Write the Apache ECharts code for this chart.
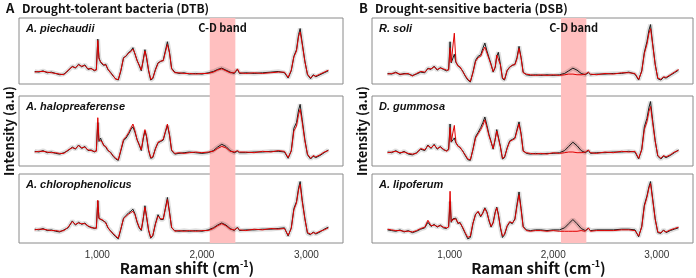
<!DOCTYPE html>
<html>
<head>
<meta charset="utf-8">
<script src="https://cdn.jsdelivr.net/npm/echarts@6/dist/echarts.min.js"></script>
<style>
  html, body { margin: 0; padding: 0; background: #fff; }
  #chart { width: 696px; height: 278px; }
</style>
</head>
<body>
<div id="chart"></div>
<script>
// raman shift values (cm-1) the spectra were read at
const shift = [
  400, 440, 480, 520, 560, 600, 640, 680, 720, 760, 790, 820, 850, 880, 910, 940, 970, 990,
  1004, 1015, 1030, 1045, 1060, 1080, 1100, 1125, 1150, 1175, 1200, 1225, 1250, 1275, 1300,
  1320, 1340, 1360, 1380, 1400, 1420, 1440, 1455, 1470, 1490, 1510, 1530, 1555, 1580, 1605,
  1630, 1650, 1670, 1690, 1710, 1740, 1780, 1830, 1880, 1940, 2000, 2060, 2110, 2150, 2190,
  2230, 2270, 2310, 2340, 2360, 2420, 2500, 2580, 2660, 2730, 2790, 2825, 2855, 2880, 2905,
  2925, 2940, 2960, 2985, 3010, 3040, 3065, 3090, 3130, 3170, 3210
];

// intensities, % of panel height (black = control, red = D2O)
const piechaudiiBlack = [
  19, 18, 20, 17, 18, 16, 14, 15, 20, 27, 24, 30, 26, 29, 22, 24, 20, 22,
  68, 40, 33, 36, 28, 30, 22, 18, 12, 8, 6, 20, 40, 42, 48,
  50, 55, 45, 36, 28, 20, 38, 52, 40, 20, 6, 8, 22, 32, 34,
  36, 50, 64, 48, 24, 18, 16, 17, 15, 16, 15, 17, 19, 22, 24,
  21, 18, 16, 22, 16, 17, 16, 17, 18, 19, 17, 9, 20, 42, 52,
  75, 84, 62, 35, 14, 8, 14, 11, 14, 17, 20
];
const piechaudiiRed = [
  18, 19, 19, 18, 17, 16, 15, 14, 21, 26, 25, 29, 27, 28, 23, 23, 21, 21,
  66, 38, 34, 35, 29, 29, 23, 17, 13, 7, 7, 21, 39, 43, 47,
  49, 53, 46, 35, 29, 21, 37, 50, 41, 21, 7, 9, 21, 31, 35,
  35, 48, 60, 47, 23, 17, 17, 16, 16, 15, 16, 16, 18, 21, 23,
  20, 17, 17, 23, 17, 16, 17, 16, 17, 18, 18, 10, 21, 41, 50,
  72, 79, 60, 34, 15, 9, 13, 12, 15, 18, 21
];

const halopreaferenseBlack = [
  21, 20, 22, 19, 20, 18, 17, 19, 22, 27, 24, 30, 25, 28, 22, 23, 20, 22,
  62, 35, 40, 34, 30, 27, 22, 20, 14, 10, 8, 22, 36, 40, 46,
  52, 56, 48, 38, 30, 22, 40, 50, 42, 22, 11, 12, 25, 33, 35,
  37, 48, 58, 44, 22, 17, 18, 19, 20, 19, 18, 19, 22, 27, 31,
  28, 22, 19, 21, 19, 19, 20, 20, 21, 21, 20, 11, 22, 54, 62,
  80, 88, 66, 38, 16, 10, 14, 12, 15, 19, 23
];
const halopreaferenseRed = [
  20, 21, 21, 20, 19, 19, 18, 18, 23, 26, 25, 29, 26, 27, 23, 22, 21, 21,
  69, 37, 39, 35, 29, 28, 23, 19, 15, 11, 9, 23, 38, 42, 48,
  54, 60, 50, 37, 31, 23, 41, 52, 43, 23, 12, 13, 24, 34, 36,
  38, 49, 60, 45, 23, 18, 19, 18, 19, 20, 19, 20, 21, 25, 28,
  26, 21, 20, 22, 20, 20, 19, 21, 20, 22, 21, 12, 21, 50, 57,
  74, 81, 62, 36, 17, 11, 15, 13, 16, 20, 22
];

const chlorophenolicusBlack = [
  20, 19, 21, 18, 19, 17, 16, 19, 22, 32, 26, 30, 27, 29, 24, 23, 21, 22,
  61, 36, 38, 33, 34, 30, 22, 18, 13, 9, 6, 20, 36, 40, 44,
  46, 49, 42, 30, 22, 18, 36, 54, 38, 18, 7, 10, 28, 41, 34,
  34, 50, 66, 45, 22, 18, 17, 18, 17, 18, 17, 19, 22, 26, 29,
  26, 21, 18, 23, 18, 19, 19, 20, 20, 21, 22, 10, 22, 50, 60,
  80, 89, 62, 36, 14, 12, 16, 13, 16, 20, 23
];
const chlorophenolicusRed = [
  19, 20, 20, 19, 18, 18, 17, 18, 23, 31, 27, 29, 28, 28, 25, 22, 22, 21,
  62, 35, 37, 34, 33, 29, 23, 17, 14, 10, 7, 21, 35, 39, 42,
  44, 46, 41, 31, 23, 19, 37, 52, 39, 19, 8, 11, 27, 39, 35,
  35, 49, 63, 44, 23, 17, 18, 17, 18, 17, 18, 18, 21, 25, 28,
  25, 20, 19, 22, 19, 18, 20, 19, 21, 20, 21, 11, 21, 48, 58,
  77, 85, 60, 35, 15, 13, 15, 14, 17, 19, 22
];

const soliBlack = [
  16, 15, 18, 14, 16, 15, 13, 15, 18, 17, 24, 22, 27, 21, 25, 22, 20, 22,
  64, 32, 30, 45, 33, 28, 25, 20, 12, 6, 3, 18, 36, 42, 44,
  54, 62, 50, 40, 30, 18, 25, 42, 48, 30, 8, 6, 20, 26, 28,
  30, 40, 57, 40, 18, 14, 13, 14, 13, 14, 13, 14, 16, 20, 24,
  21, 16, 14, 17, 14, 15, 15, 16, 16, 18, 15, 6, 20, 48, 64,
  82, 90, 62, 30, 8, 6, 10, 9, 13, 17, 21
];
const soliRed = [
  15, 16, 17, 15, 15, 16, 12, 16, 19, 18, 23, 23, 26, 22, 24, 23, 21, 21,
  55, 33, 31, 77, 34, 27, 26, 19, 13, 7, 4, 17, 34, 40, 42,
  50, 56, 47, 38, 29, 19, 26, 44, 46, 29, 9, 7, 21, 25, 29,
  29, 38, 54, 39, 17, 15, 14, 13, 14, 13, 14, 13, 14, 15, 15,
  14, 14, 15, 18, 15, 14, 16, 15, 17, 17, 16, 7, 19, 46, 60,
  77, 84, 60, 29, 9, 7, 11, 10, 14, 18, 22
];

const gummosaBlack = [
  20, 19, 22, 18, 21, 17, 16, 19, 24, 22, 30, 25, 31, 24, 28, 23, 22, 24,
  60, 34, 36, 40, 33, 29, 26, 22, 15, 9, 8, 24, 42, 48, 55,
  62, 70, 58, 45, 35, 24, 38, 52, 50, 28, 10, 12, 26, 36, 38,
  40, 52, 63, 46, 22, 18, 17, 18, 17, 18, 18, 19, 22, 28, 34,
  29, 22, 19, 22, 18, 19, 19, 20, 20, 21, 20, 10, 24, 56, 68,
  84, 92, 66, 36, 14, 10, 14, 12, 15, 19, 23
];
const gummosaRed = [
  19, 20, 21, 19, 20, 18, 17, 18, 25, 23, 29, 26, 30, 25, 27, 24, 21, 23,
  55, 35, 37, 58, 34, 28, 27, 21, 16, 10, 9, 23, 40, 46, 52,
  58, 66, 55, 43, 34, 25, 39, 50, 48, 27, 11, 13, 25, 35, 37,
  39, 50, 60, 45, 21, 19, 18, 17, 18, 17, 19, 18, 19, 20, 20,
  19, 19, 20, 23, 19, 18, 20, 19, 21, 20, 21, 11, 23, 52, 63,
  78, 85, 62, 35, 15, 11, 15, 13, 16, 20, 22
];

const lipoferumBlack = [
  19, 18, 17, 19, 16, 18, 15, 17, 20, 22, 30, 24, 27, 23, 26, 22, 21, 24,
  60, 30, 35, 34, 36, 28, 30, 22, 14, 6, 8, 28, 42, 45, 38,
  44, 51, 45, 32, 23, 30, 45, 52, 42, 22, 8, 12, 24, 30, 28,
  35, 56, 74, 50, 24, 19, 18, 19, 19, 18, 19, 19, 22, 28, 34,
  28, 21, 18, 21, 18, 19, 19, 19, 20, 20, 19, 9, 24, 55, 68,
  82, 89, 65, 35, 15, 14, 19, 15, 18, 20, 22
];
const lipoferumRed = [
  20, 19, 18, 18, 17, 17, 16, 18, 21, 23, 33, 25, 26, 24, 25, 23, 22, 23,
  75, 31, 34, 35, 35, 29, 29, 23, 15, 8, 10, 29, 41, 46, 39,
  43, 50, 44, 33, 24, 29, 44, 51, 41, 23, 10, 13, 25, 31, 29,
  34, 53, 70, 48, 23, 18, 17, 18, 18, 17, 18, 17, 17, 17, 17,
  17, 18, 17, 22, 17, 18, 18, 18, 19, 19, 18, 10, 23, 53, 66,
  80, 86, 63, 34, 16, 15, 18, 16, 19, 21, 23
];

const cdBand = [2075, 2320];
const tickValues = [1000, 2000, 3000];

const panels = [
  { letter: 'A', title: 'Drought-tolerant bacteria (DTB)', left: 19, width: 324, species: [
    { name: 'A. piechaudii', black: piechaudiiBlack, red: piechaudiiRed },
    { name: 'A. halopreaferense', black: halopreaferenseBlack, red: halopreaferenseRed },
    { name: 'A. chlorophenolicus', black: chlorophenolicusBlack, red: chlorophenolicusRed }
  ]},
  { letter: 'B', title: 'Drought-sensitive bacteria (DSB)', left: 372, width: 321, species: [
    { name: 'R. soli', black: soliBlack, red: soliRed },
    { name: 'D. gummosa', black: gummosaBlack, red: gummosaRed },
    { name: 'A. lipoferum', black: lipoferumBlack, red: lipoferumRed }
  ]}
];

const rowTops = [18, 96, 174];
const rowHeights = [66, 70, 69];
const font = '"Noto Sans CJK KR", "Noto Sans", sans-serif';

const grid = [], xAxis = [], yAxis = [], series = [], graphic = [];
const pair = arr => arr.map((v, i) => [shift[i], v]);

panels.forEach(p => {
  // full height grid that only carries the pink C-D band
  const bandIdx = grid.length;
  grid.push({ left: p.left, width: p.width, top: rowTops[0], height: rowTops[2] + rowHeights[2] - rowTops[0] });
  xAxis.push({ gridIndex: bandIdx, type: 'value', min: 250, max: 3350, show: false });
  yAxis.push({ gridIndex: bandIdx, type: 'value', min: 0, max: 100, show: false });
  series.push({
    type: 'line', xAxisIndex: bandIdx, yAxisIndex: bandIdx, data: [], silent: true, z: 0,
    markArea: { silent: true, itemStyle: { color: '#ffbfbf' }, data: [[{ xAxis: cdBand[0] }, { xAxis: cdBand[1] }]] }
  });

  p.species.forEach((s, r) => {
    const gi = grid.length;
    const last = r === 2;
    grid.push({ left: p.left, width: p.width, top: rowTops[r], height: rowHeights[r], show: true, borderColor: '#8a8a8a', borderWidth: 1, backgroundColor: 'transparent', z: 1 });
    xAxis.push({
      gridIndex: gi, type: 'value', min: 250, max: 3350,
      axisLine: { show: false }, axisTick: { show: false }, splitLine: { show: false },
      axisLabel: {
        show: last, customValues: tickValues, margin: 7, fontSize: 10, color: '#333',
        fontFamily: '"Liberation Sans", Arial, sans-serif',
        formatter: v => v.toLocaleString('en-US')
      }
    });
    yAxis.push({ gridIndex: gi, type: 'value', min: 0, max: 100, show: false });
    const common = { type: 'line', xAxisIndex: gi, yAxisIndex: gi, symbol: 'none', silent: true, animation: false };
    series.push(Object.assign({}, common, { data: pair(s.black), lineStyle: { width: 4.5, color: 'rgba(0,0,0,0.13)' }, z: 2 }));
    series.push(Object.assign({}, common, { data: pair(s.black), lineStyle: { width: 1, color: '#1a1a1a' }, z: 3 }));
    series.push(Object.assign({}, common, { data: pair(s.red), lineStyle: { width: 1, color: '#e00000' }, z: 4 }));

    graphic.push({
      type: 'text', left: p.left + 7, top: rowTops[r] + 5, z: 10,
      style: { text: s.name, font: 'italic bold 11px "Liberation Sans", Arial, sans-serif', fill: '#111' }
    });
  });

  graphic.push({
    type: 'text', left: p.left - 13, top: 2,
    style: { text: p.letter, font: 'bold 13px ' + font, fill: '#111' }
  });
  graphic.push({
    type: 'text', left: p.left + 3, top: 2,
    style: { text: p.title, font: 'bold 12px ' + font, fill: '#111' }
  });
  // C-D band label centred over the band in the top panel
  const bandMid = p.left + ((cdBand[0] + cdBand[1]) / 2 - 250) / 3100 * p.width;
  graphic.push({
    type: 'text', x: bandMid, y: rowTops[0] + 4, z: 10,
    style: { text: 'C-D band', font: 'bold 11px ' + font, fill: '#111', align: 'center' }
  });
  graphic.push({
    type: 'text', x: p.left - 10, y: 131, rotation: Math.PI / 2,
    style: { text: 'Intensity (a.u)', font: 'bold 13px ' + font, fill: '#111', align: 'center', verticalAlign: 'middle' }
  });
  graphic.push({
    type: 'text', x: p.left + p.width / 2 + 6, y: 268,
    style: {
      rich: {
        t: { font: 'bold 15px ' + font, fill: '#111' },
        s: { font: 'bold 9px ' + font, fill: '#111', padding: [0, 0, 8, 0] }
      },
      text: '{t|Raman shift (cm}{s|-1}{t|)}', align: 'center', verticalAlign: 'middle'
    }
  });
});

const chart = echarts.init(document.getElementById('chart'));
chart.setOption({ animation: false, grid, xAxis, yAxis, series, graphic });
</script>
</body>
</html>
